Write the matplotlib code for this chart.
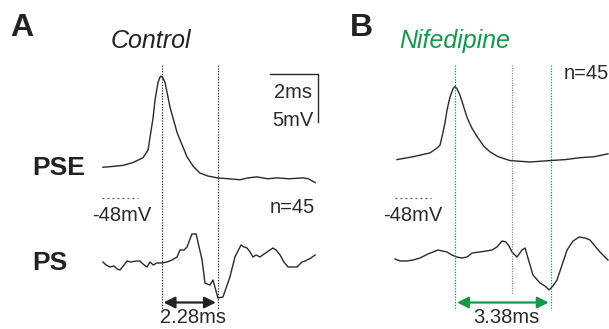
import matplotlib.pyplot as plt
import numpy as np

plt.rcParams['font.family'] = ['Liberation Sans', 'DejaVu Sans']

# Dados (tempo em ms, potencial em mV)
# A - Controle
ctrl_pse_t = [0.04, 0.5, 0.875, 1.3, 1.71, 1.92, 2.0, 2.13, 2.21, 2.33, 2.42, 2.46, 2.54,
              2.63, 2.71, 2.83, 3.13, 3.54, 3.8, 4.08, 4.4, 4.79, 5.3, 5.75, 6.1, 6.46, 6.9,
              7.29, 7.8, 8.38, 8.6, 8.88]
ctrl_pse_v = [-44.8, -44.7, -44.6, -44.3, -43.8, -43.0, -41.7, -39.6, -37.8, -36.0, -35.4,
              -35.3, -35.5, -36.0, -37.0, -38.5, -41.2, -43.7, -44.7, -45.4, -45.7, -45.9,
              -46.0, -46.1, -45.9, -45.8, -46.0, -45.9, -46.0, -45.9, -46.0, -46.4]
ctrl_ps_t = [0.04, 0.17, 0.33, 0.5, 0.63, 0.75, 0.92, 1.04, 1.21, 1.42, 1.58, 1.71, 1.875,
             2.0, 2.13, 2.29, 2.5, 2.71, 2.92, 3.125, 3.25, 3.42, 3.54, 3.75, 3.92, 4.17,
             4.29, 4.5, 4.625, 4.83, 5.04, 5.33, 5.54, 5.79, 5.92, 6.04, 6.17, 6.29, 6.42,
             6.58, 6.75, 6.875, 7.125, 7.25, 7.42, 7.58, 7.75, 7.92, 8.125, 8.33, 8.46,
             8.54, 8.71, 8.875]
ctrl_ps_v = [0, -0.31, -0.52, -0.42, -0.73, -0.83, -0.31, 0.10, 0, 0.10, 0.10, -0.21, -0.52,
             0, -0.31, -0.10, -0.10, 0, 0.21, 0.52, 1.25, 1.25, 1.56, 2.92, 2.92, 0.21,
             -2.19, -2.40, -1.875, -3.75, -3.65, -1.56, 0.52, 1.77, 1.56, 1.46, 1.04, 0.52,
             0.73, 0.52, 0.83, 1.04, 1.46, 1.25, 0.73, 0, -0.52, -0.52, -0.52, 0, 0.10,
             0.21, 0.42, 0.73]
ctrl_marcas = [2.48, 4.83]

# B - Nifedipina
nif_pse_t = [0.08, 0.75, 1.46, 1.75, 1.875, 1.96, 2.08, 2.17, 2.29, 2.42, 2.5, 2.58, 2.71,
             2.85, 3.0, 3.2, 3.42, 3.7, 3.96, 4.3, 4.79, 5.625, 6.46, 7.1, 7.71, 8.3, 8.875]
nif_pse_v = [-44.0, -43.7, -43.3, -42.8, -42.5, -41.6, -40.2, -38.8, -37.5, -36.6, -36.4,
             -36.6, -37.3, -38.4, -39.6, -40.7, -41.6, -42.6, -43.2, -43.7, -44.1, -44.25,
             -44.1, -44.0, -43.8, -43.7, -43.4]
nif_ps_t = [0, 0.21, 0.5, 0.75, 1.04, 1.375, 1.79, 2.17, 2.375, 2.58, 2.79, 3.0, 3.21, 3.54,
            3.79, 4.04, 4.25, 4.46, 4.625, 4.75, 4.875, 5.08, 5.29, 5.42, 5.54, 5.75, 6.04,
            6.25, 6.42, 6.58, 6.75, 6.96, 7.17, 7.42, 7.67, 7.92, 8.125, 8.33, 8.54, 8.875]
nif_ps_v = [-0.10, -0.31, -0.31, -0.21, 0, 0.42, 0.83, 0.625, 0.31, 0.10, 0, 0.10, 0.52,
            0.625, 0.73, 0.83, 1.15, 1.77, 1.67, 1.25, 0.625, 0.10, 0.83, 1.04, 0, -1.77,
            -2.60, -2.92, -3.33, -2.92, -2.29, -0.73, 0.83, 1.77, 2.19, 2.08, 1.875, 1.25,
            0.625, -0.21]
nif_marcas = [2.5, 6.49]
nif_marca_ctrl = 4.86

repouso = -48  # mV
latencias = ['2.28ms', '3.38ms']

# Escala em pixels
SX = 24.0   # px por ms
SY = 9.6    # px por mV
VERDE = '#12994a'
CINZA = '#2a2a2a'

fig = plt.figure(figsize=(6.09, 3.29), dpi=100)
ax = fig.add_axes([0, 0, 1, 1])
ax.set_xlim(0, 609)
ax.set_ylim(329, 0)
ax.axis('off')


def px(t, x0):
    return x0 + np.asarray(t) * SX


def py(v, y0):
    return y0 - np.asarray(v) * SY


def painel(x0, pse_t, pse_v, ps_t, ps_v, y_ps, marcas, cor, texto, extra=None):
    y_rep = 198 + repouso * SY  # origem do PSE de modo que -48mV fique em y=198
    ax.plot(px(pse_t, x0), py(pse_v, y_rep), color=CINZA, lw=1.0, solid_joinstyle='round')
    ax.plot(px(ps_t, x0), py(ps_v, y_ps), color=CINZA, lw=1.0, solid_joinstyle='round')
    # linha pontilhada de -48mV
    ax.plot(px([0, 1.5], x0), py([repouso, repouso], y_rep), color='#555555', lw=0.9,
            ls=(0, (1.5, 2.5)))
    for m in marcas:
        ax.plot([px(m, x0)] * 2, [65, 310], color=cor, lw=0.9, ls=(0, (1, 1.2)))
    if extra is not None:
        ax.plot([px(extra, x0)] * 2, [65, 294], color='#888888', lw=0.8, ls=(0, (1, 1.2)))
    ax.annotate('', xy=(px(marcas[1], x0) - 2, 302.5), xytext=(px(marcas[0], x0) + 2, 302.5),
                arrowprops=dict(arrowstyle='<|-|>', color=cor, lw=1.6, mutation_scale=17,
                                shrinkA=0, shrinkB=0))
    ax.text((px(marcas[0], x0) + px(marcas[1], x0)) / 2 + 3, 323, texto, ha='center',
            va='baseline', fontsize=14.5, color=CINZA)


painel(102, ctrl_pse_t, ctrl_pse_v, ctrl_ps_t, ctrl_ps_v, 262, ctrl_marcas, '#222222',
       latencias[0])
painel(395, nif_pse_t, nif_pse_v, nif_ps_t, nif_ps_v, 258, nif_marcas, VERDE,
       latencias[1], extra=nif_marca_ctrl)

# Barra de escala: 2 ms x 5 mV
ax.plot([318 - 2 * SX, 318, 318], [74, 74, 74 + 5 * SY], color=CINZA, lw=1.0)
ax.text(293, 98, '2ms', ha='center', va='baseline', fontsize=14.5, color=CINZA)
ax.text(293, 126, '5mV', ha='center', va='baseline', fontsize=14.5, color=CINZA)

# Títulos e rótulos
ax.text(10, 36, 'A', fontsize=23, fontweight='bold', va='baseline', color='#222222')
ax.text(350, 36, 'B', fontsize=23, fontweight='bold', va='baseline', color='#222222')
ax.text(151, 48, 'Control', fontsize=18, style='italic', ha='center', va='baseline',
        color='#222222')
ax.text(455, 48, 'Nifedipine', fontsize=18, style='italic', ha='center', va='baseline',
        color=VERDE)
ax.text(32, 175, 'PSE', fontsize=19, fontweight='bold', va='baseline', color='#222222')
ax.text(32, 270, 'PS', fontsize=19, fontweight='bold', va='baseline', color='#222222')
ax.text(92, 221, '-48mV', fontsize=14.5, va='baseline', color=CINZA)
ax.text(383, 221, '-48mV', fontsize=14.5, va='baseline', color=CINZA)
ax.text(315, 213, 'n=45', fontsize=14.5, ha='right', va='baseline', color=CINZA)
ax.text(609, 79, 'n=45', fontsize=14.5, ha='right', va='baseline', color=CINZA)

fig.savefig('out.png', dpi=100)
